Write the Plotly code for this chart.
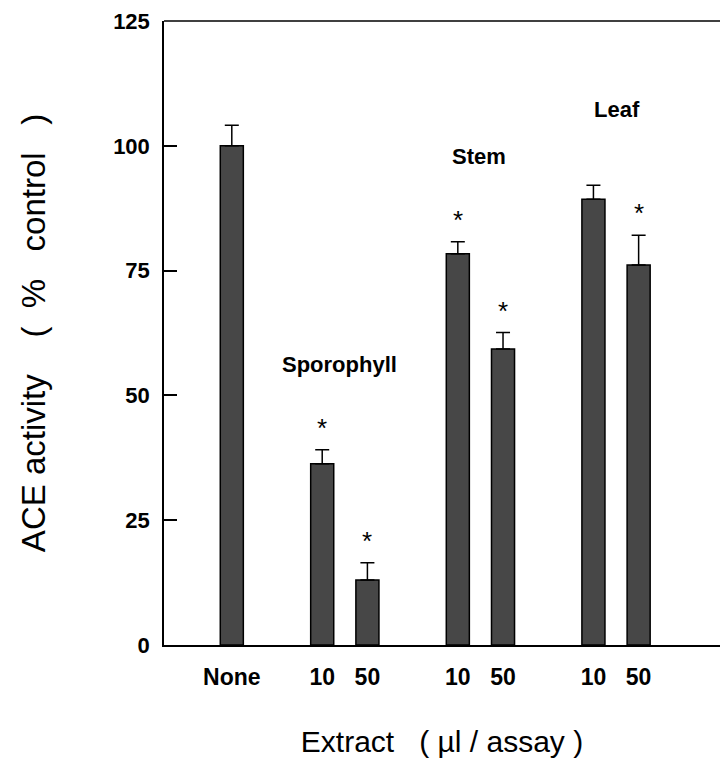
import plotly.graph_objects as go

# ---- data ----
x_pos = [0, 2, 3, 5, 6, 8, 9]
tick_labels = ["None", "10", "50", "10", "50", "10", "50"]
values = [100.0, 36.3, 13.0, 78.4, 59.3, 89.3, 76.1]
errors = [4.1, 2.8, 3.5, 2.4, 3.3, 2.8, 6.0]
significant = [False, True, True, True, True, False, True]
group_names = ["Sporophyll", "Stem", "Leaf"]
group_label_x = [2.38, 5.46, 8.52]
group_label_y = [56.1, 97.9, 107.3]
y_ticks = [0, 25, 50, 75, 100, 125]

FONT = "Liberation Sans, Arial, Helvetica, sans-serif"
NB = "\u00a0"

fig = go.Figure()
fig.add_trace(go.Bar(
    x=x_pos, y=values, width=0.51,
    marker=dict(color="#474747", line=dict(color="black", width=1.5)),
    error_y=dict(type="data", array=errors, arrayminus=[0] * len(errors),
                 symmetric=False, color="black", thickness=1.5, width=7),
    showlegend=False,
))

# asterisks
for xp, v, e, s in zip(x_pos, values, errors, significant):
    if s:
        fig.add_annotation(x=xp, y=v + e + 1.0, text="*", showarrow=False,
                           yanchor="bottom", font=dict(family=FONT, size=26, color="black"))

# group labels
for name, gx, gy in zip(group_names, group_label_x, group_label_y):
    fig.add_annotation(x=gx, y=gy, text=f"<b>{name}</b>", showarrow=False,
                       font=dict(family=FONT, size=22, color="black"))

# top frame line
fig.add_shape(type="line", xref="paper", yref="paper", x0=0, x1=1, y0=1, y1=1,
              line=dict(color="black", width=1.5))

y_title = "ACE activity" + NB * 4 + "(" + NB * 2 + "%" + NB * 3 + "control" + NB * 3 + ")"
x_title = "Extract" + NB * 3 + "(" + NB + "µl / assay" + NB + ")"

fig.update_layout(
    width=720, height=758,
    margin=dict(l=164, r=0, t=20.5, b=112.5),
    plot_bgcolor="white", paper_bgcolor="white",
    font=dict(family=FONT, color="black"),
    xaxis=dict(range=[-1.5, 10.8], tickmode="array", tickvals=x_pos, ticktext=[f"<b>{t}</b>" for t in tick_labels],
               ticks="", showline=True, linecolor="black", linewidth=1.5, showgrid=False, zeroline=False,
               tickfont=dict(family=FONT, size=23, color="black"), ticklabelstandoff=11,
               title=dict(text=x_title, font=dict(family=FONT, size=30, color="black"), standoff=44)),
    yaxis=dict(range=[0, 125], tickmode="array", tickvals=y_ticks, ticktext=[f"<b>{t}</b>" for t in y_ticks],
               ticks="inside", ticklen=13, tickwidth=1.5, tickcolor="black",
               showline=True, linecolor="black", linewidth=1.5, showgrid=False, zeroline=False,
               tickfont=dict(family=FONT, size=22, color="black"), ticklabelstandoff=8,
               title=dict(text=y_title, font=dict(family=FONT, size=33, color="black"), standoff=58)),
)

fig.write_html("out.html")
